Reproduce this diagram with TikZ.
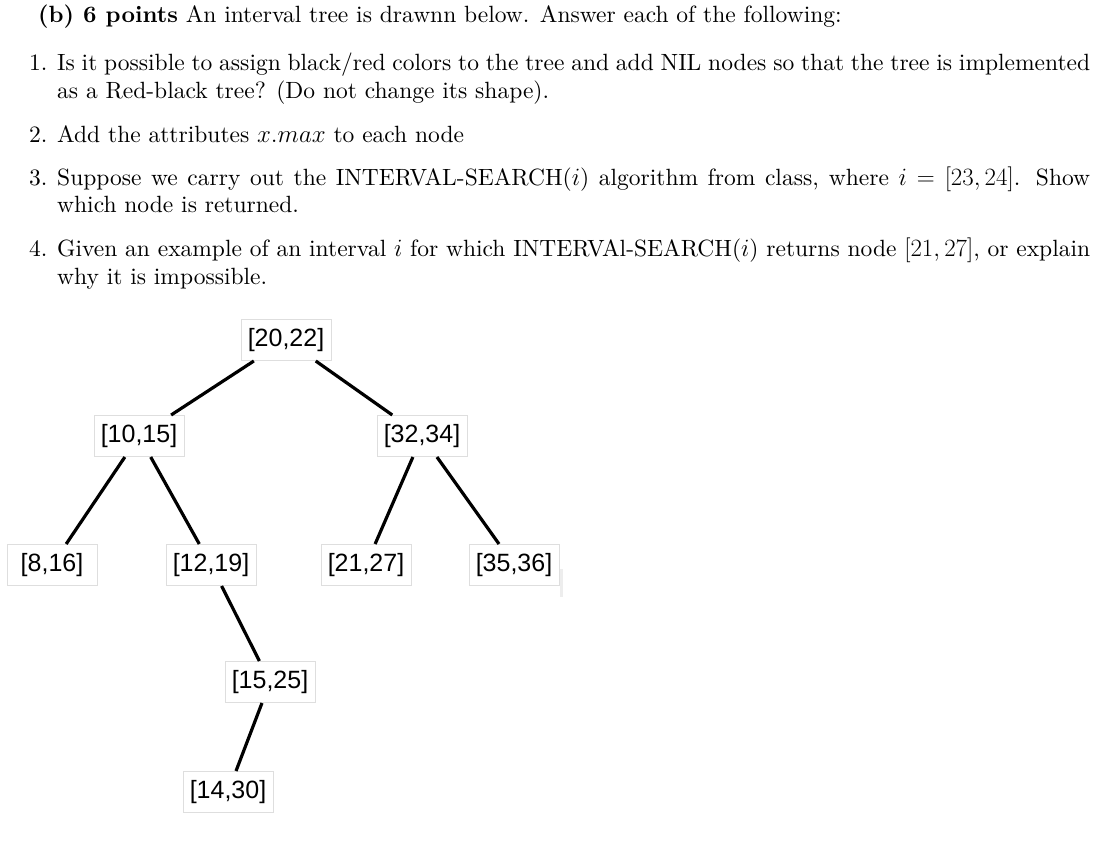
\documentclass[tikz,border=0pt]{standalone}
\usepackage{fontspec}
\setmainfont{lmroman10-regular.otf}[BoldFont=lmroman10-bold.otf, ItalicFont=lmroman10-italic.otf]
\newfontfamily\treefont{Liberation Sans}
\tikzset{
  txt/.style={inner sep=0pt, anchor=base west, font=\fontsize{23.5}{29}\selectfont},
  tnode/.style={draw=black!13, line width=1pt, minimum width=90pt, minimum height=41pt,
    inner sep=0pt, font=\treefont\fontsize{25}{30}\selectfont},
  edge/.style={line width=3.2pt, black}
}
\begin{document}
\begin{tikzpicture}[x=1pt,y=-1pt]
\useasboundingbox (0,0) rectangle (1120,842);
% text
\node[txt] (title) at (38,23) {\textbf{(b) 6 points} An interval tree is drawnn below. Answer each of the following:};
\node[txt] (n1) at (29,71) {1.};
\node[txt] (l1a) at (57,71) {\makebox[1033pt][s]{Is it possible to assign black/red colors to the tree and add NIL nodes so that the tree is implemented}};
\node[txt] (l1b) at (57,99) {as a Red-black tree? (Do not change its shape).};
\node[txt] (n2) at (29,143) {2.};
\node[txt] (l2a) at (57,143) {Add the attributes $x.max$ to each node};
\node[txt] (n3) at (29,186) {3.};
\node[txt] (l3a) at (57,186) {\makebox[1033pt][s]{Suppose we carry out the INTERVAL-SEARCH($i$) algorithm from class, where $i = [23,24]$. Show}};
\node[txt] (l3b) at (57,213) {which node is returned.};
\node[txt] (n4) at (29,257) {4.};
\node[txt] (l4a) at (57,257) {\makebox[1033pt][s]{Given an example of an interval $i$ for which INTERVAl-SEARCH($i$) returns node $[21,27]$, or explain}};
\node[txt] (l4b) at (57,285) {why it is impossible.};
% tree
\node[tnode] (r) at (286,340) {[20,22]};
\node[tnode] (a) at (139,436) {[10,15]};
\node[tnode] (b) at (422,436) {[32,34]};
\node[tnode] (c) at (52,565) {[8,16]};
\node[tnode] (d) at (211,565) {[12,19]};
\node[tnode] (e) at (366,565) {[21,27]};
\node[tnode] (f) at (514,565) {[35,36]};
\node[tnode] (g) at (270,682) {[15,25]};
\node[tnode] (h) at (228,792) {[14,30]};
\fill[black!7] (560,569) rectangle (563,597);
\draw[edge] (r) -- (a);
\draw[edge] (r) -- (b);
\draw[edge] (a) -- (c);
\draw[edge] (a) -- (d);
\draw[edge] (b) -- (e);
\draw[edge] (b) -- (f);
\draw[edge] (d) -- (g);
\draw[edge] (g) -- (h);
\end{tikzpicture}
\end{document}
